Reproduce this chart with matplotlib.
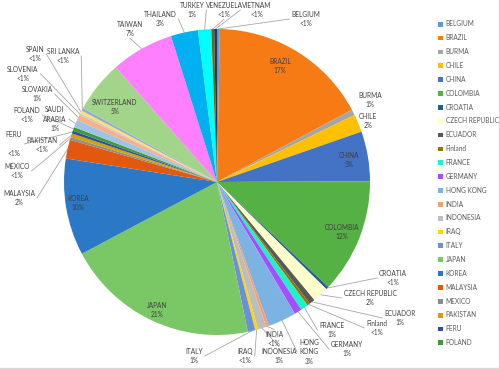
import matplotlib.pyplot as plt
from matplotlib.lines import Line2D
import numpy as np

countries = ["BELGIUM", "BRAZIL", "BURMA", "CHILE", "CHINA", "COLOMBIA", "CROATIA",
             "CZECH REPUBLIC", "ECUADOR", "Finland", "FRANCE", "GERMANY", "HONG KONG",
             "INDIA", "INDONESIA", "IRAQ", "ITALY", "JAPAN", "KOREA", "MALAYSIA", "MEXICO",
             "PAKISTAN", "PERU", "POLAND", "SAUDI ARABIA", "SLOVAKIA", "SLOVENIA", "SPAIN",
             "SRI LANKA", "SWITZERLAND", "TAIWAN", "THAILAND", "TURKEY", "VENEZUELA", "VIETNAM"]
shares = [0.3, 17.0, 0.6, 1.9, 5.3, 12.2, 0.3,
          1.7, 0.6, 0.3, 0.8, 0.8, 3.0,
          0.3, 0.9, 0.3, 0.8, 20.6, 10.3, 2.0, 0.3,
          0.4, 0.3, 0.4, 0.8, 0.6, 0.2, 0.3,
          0.3, 5.5, 6.7, 2.9, 1.4, 0.3, 0.3]
pct_labels = ["<1%", "17%", "1%", "2%", "5%", "12%", "<1%",
              "2%", "1%", "<1%", "1%", "1%", "3%",
              "<1%", "1%", "<1%", "1%", "21%", "10%", "2%", "<1%",
              "<1%", "<1%", "<1%", "1%", "1%", "<1%", "<1%",
              "<1%", "5%", "7%", "3%", "1%", "<1%", "<1%"]
colors = ["#5B9BD5", "#F77B14", "#A5A5A5", "#FFC000", "#4472C4", "#55B144", "#255E91",
          "#FFFFCC", "#595959", "#997300", "#1EF2C8", "#A64DFF", "#7DB3E3",
          "#F4A070", "#BDBDBD", "#FFD700", "#6C8FDA", "#79C765", "#2A78C6", "#E2580E", "#8C8C8C",
          "#D6A000", "#2E4DA8", "#3F9B36", "#9DC3E6", "#F8B08A", "#C9C9C9", "#FFE066",
          "#8FAADC", "#A2D48A", "#FF80FF", "#00B0F0", "#00FFFF", "#806000", "#203864"]

# text label placement (pixel centres in the 500x369 image)
label_pos = {
    "BELGIUM": (306, 19), "BRAZIL": (280, 66), "BURMA": (370, 100), "CHILE": (368, 121),
    "CHINA": (349, 160), "COLOMBIA": (342, 232), "CROATIA": (393, 278),
    "CZECH REPUBLIC": (370, 298), "ECUADOR": (400, 318), "Finland": (377, 328),
    "FRANCE": (332, 330), "GERMANY": (347, 349), "HONG KONG": (309, 352),
    "INDIA": (274, 339), "INDONESIA": (279, 356), "IRAQ": (245, 356), "ITALY": (194, 356),
    "JAPAN": (157, 310), "KOREA": (78, 203), "MALAYSIA": (19, 198), "MEXICO": (17, 171),
    "PAKISTAN": (42, 145), "PERU": (14, 144), "POLAND": (27, 115), "SAUDI ARABIA": (55, 119),
    "SLOVAKIA": (37, 94), "SLOVENIA": (23, 74), "SPAIN": (35, 54), "SRI LANKA": (63, 56),
    "SWITZERLAND": (115, 107), "TAIWAN": (130, 29), "THAILAND": (160, 19),
    "TURKEY": (192, 10), "VENEZUELA": (224, 10), "VIETNAM": (257, 10),
}
wrapped = {"HONG KONG": "HONG\nKONG", "SAUDI ARABIA": "SAUDI\nARABIA", "PERU": "PERU\n"}
no_leader = {"BRAZIL", "BURMA", "CHILE", "CHINA", "COLOMBIA", "JAPAN", "KOREA", "SWITZERLAND"}

plt.rcParams['font.family'] = ['Lato', 'DejaVu Sans']

W, H = 500, 369
CX, CY, R = 217, 182, 153
FS = 4.7


def px(x, y):
    return (x - CX) / R, (CY - y) / R


fig = plt.figure(figsize=(5, 3.69), dpi=100)
ax = fig.add_axes([0, 0, 1, 1])
wedges, _ = ax.pie(shares, colors=colors, startangle=90, counterclock=False,
                   wedgeprops=dict(linewidth=0))
ax.set_aspect('auto')
ax.set_xlim(-CX / R, (W - CX) / R)
ax.set_ylim((CY - H) / R, CY / R)
ax.axis('off')

texts = []
for name, pct in zip(countries, pct_labels):
    x, y = px(*label_pos[name])
    t = ax.text(x, y, wrapped.get(name, name) + "\n" + pct, ha='center', va='center',
                fontsize=FS, color='#404040', linespacing=1.45)
    texts.append(t)

# leader lines from label box to the outer edge of its wedge
fig.canvas.draw()
rend = fig.canvas.get_renderer()
inv = ax.transData.inverted()
for name, w, t in zip(countries, wedges, texts):
    if name in no_leader:
        continue
    mid = np.deg2rad((w.theta1 + w.theta2) / 2)
    wx, wy = ax.transData.transform((np.cos(mid), np.sin(mid)))
    bb = t.get_window_extent(rend)
    if wx > bb.x1:
        sx, sy = bb.x1 + 2, (bb.y0 + bb.y1) / 2
    elif wx < bb.x0:
        sx, sy = bb.x0 - 2, (bb.y0 + bb.y1) / 2
    elif wy > bb.y1:
        sx, sy = (bb.x0 + bb.x1) / 2, bb.y1 + 1
    else:
        sx, sy = (bb.x0 + bb.x1) / 2, bb.y0 - 1
    p0 = inv.transform((sx, sy))
    p1 = inv.transform((wx, wy))
    ax.plot([p0[0], p1[0]], [p0[1], p1[1]], color='#A6A6A6', lw=0.6, zorder=0.5)

leg = fig.legend(wedges[:24], countries[:24], loc='upper left',
                 bbox_to_anchor=(438 / W, 1 - 20.5 / H), frameon=False, fontsize=FS,
                 handlelength=0.75, handleheight=0.75, handletextpad=0.4,
                 labelspacing=1.05, borderpad=0, borderaxespad=0)
for txt in leg.get_texts():
    txt.set_color('#595959')

fig.add_artist(Line2D([0, 1], [1.5 / H, 1.5 / H], color='#D9D9D9', lw=1))
fig.add_artist(Line2D([1 - 1.5 / W, 1 - 1.5 / W], [0, 1], color='#D9D9D9', lw=1))

fig.savefig('out.png', dpi=100)
